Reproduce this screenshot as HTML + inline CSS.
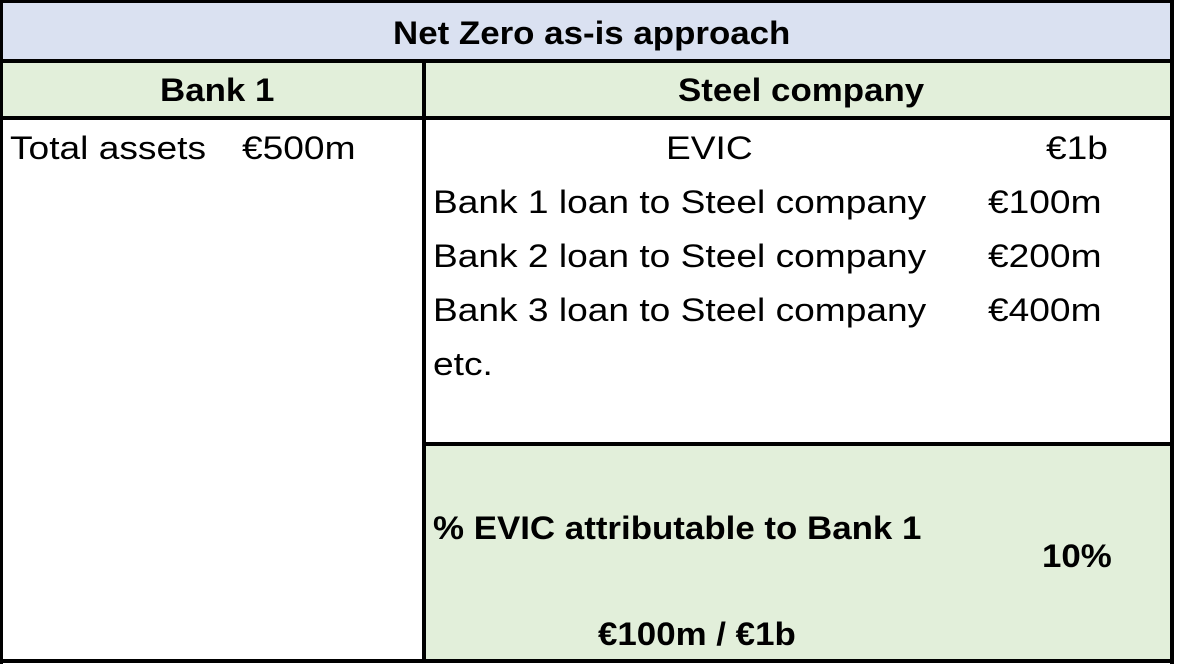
<!DOCTYPE html>
<html><head><meta charset="utf-8"><style>
body{margin:0;width:1178px;height:664px;background:#fff;position:relative;overflow:hidden;font-family:"Liberation Sans",sans-serif;color:#000}
div{position:absolute;box-sizing:border-box}
.t{white-space:nowrap;font-size:32px;line-height:1;transform:scaleX(1.16);transform-origin:0 0}
.b{font-weight:bold;transform:scaleX(1.09)}
.ln{background:#000}
</style></head><body>
<div style="left:0;top:0;width:1174px;height:62px;background:#dae1f1"></div>
<div style="left:0;top:62px;width:1174px;height:56px;background:#e2efda"></div>
<div style="left:424px;top:445px;width:750px;height:217px;background:#e2efda"></div>
<div class="ln" style="left:0;top:0;width:3px;height:664px"></div>
<div class="ln" style="left:1170px;top:0;width:4px;height:664px"></div>
<div class="ln" style="left:0;top:0;width:1174px;height:3px"></div>
<div class="ln" style="left:0;top:659px;width:1174px;height:4px"></div>
<div class="ln" style="left:0;top:59px;width:1174px;height:4px"></div>
<div class="ln" style="left:0;top:116px;width:1174px;height:4px"></div>
<div class="ln" style="left:422px;top:61px;width:4px;height:602px"></div>
<div class="ln" style="left:424px;top:442px;width:750px;height:4px"></div>
<div class="t b" style="left:393px;top:17px">Net Zero as-is approach</div>
<div class="t b" style="left:160px;top:74px">Bank 1</div>
<div class="t b" style="left:678px;top:74px">Steel company</div>
<div class="t" style="left:10px;top:132px">Total assets</div>
<div class="t" style="left:242px;top:132px">€500m</div>
<div class="t" style="left:666px;top:132px">EVIC</div>
<div class="t" style="left:1046px;top:132px">€1b</div>
<div class="t" style="left:433px;top:186px">Bank 1 loan to Steel company</div>
<div class="t" style="left:988px;top:186px">€100m</div>
<div class="t" style="left:433px;top:240px">Bank 2 loan to Steel company</div>
<div class="t" style="left:988px;top:240px">€200m</div>
<div class="t" style="left:433px;top:294px">Bank 3 loan to Steel company</div>
<div class="t" style="left:988px;top:294px">€400m</div>
<div class="t" style="left:433px;top:348px">etc.</div>
<div class="t b" style="left:433px;top:512px">% EVIC attributable to Bank 1</div>
<div class="t b" style="left:1042px;top:540px">10%</div>
<div class="t b" style="left:598px;top:618px">€100m / €1b</div>
</body></html>
